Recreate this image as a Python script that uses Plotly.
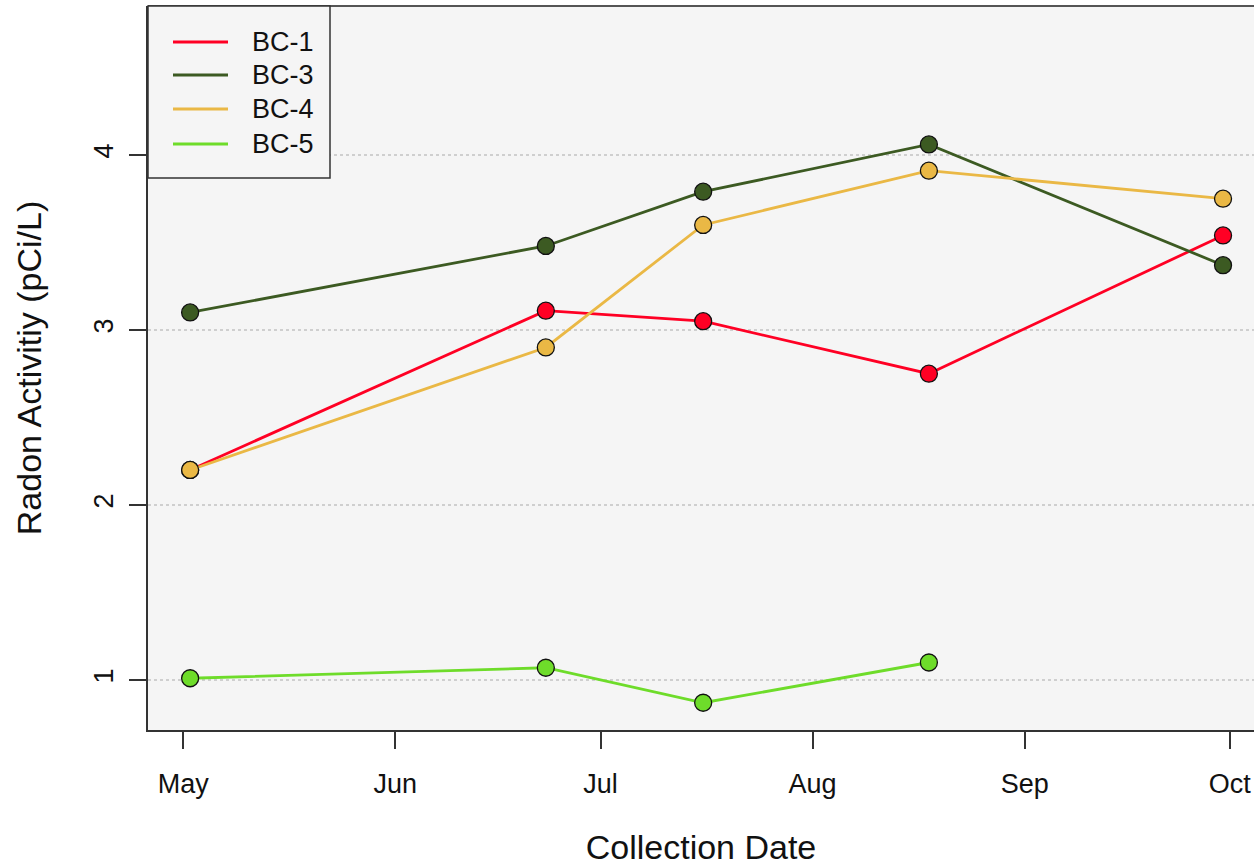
import plotly.graph_objects as go

# Sampling dates and radon readings per well
dates = ["2017-05-02", "2017-06-23", "2017-07-16", "2017-08-18", "2017-09-30"]
bc1 = [2.20, 3.11, 3.05, 2.75, 3.54]
bc3 = [3.10, 3.48, 3.79, 4.06, 3.37]
bc4 = [2.20, 2.90, 3.60, 3.91, 3.75]
bc5 = [1.01, 1.07, 0.87, 1.10]

series_names = ["BC-1", "BC-3", "BC-4", "BC-5"]
series_values = [bc1, bc3, bc4, bc5]
series_colors = ["#FF0024", "#3C5A22", "#EAB845", "#6EDC2A"]

month_ticks = ["2017-05-01", "2017-06-01", "2017-07-01", "2017-08-01",
               "2017-09-01", "2017-10-01"]
month_labels = ["May", "Jun", "Jul", "Aug", "Sep", "Oct"]
y_ticks = [1, 2, 3, 4]

FONT = "Liberation Sans, Arial, sans-serif"
W, H = 1254, 866
L, R, T, B = 148, 0, 6, 136

fig = go.Figure()
for name, vals, col in zip(series_names, series_values, series_colors):
    fig.add_trace(go.Scatter(
        x=dates[:len(vals)], y=vals, name=name, mode="lines+markers",
        line=dict(color=col, width=2.8),
        marker=dict(size=17, color=col, line=dict(color="#111111", width=1.3)),
        showlegend=False, cliponaxis=False,
    ))

# Legend box drawn in the top-left corner of the panel
pw, ph = W - L - R, H - T - B


def px(x):
    return (x - L) / pw


def py(y):
    return (H - B - y) / ph


shapes = [
    # top border of the panel
    dict(type="line", xref="paper", yref="paper", x0=0, x1=1.02, y0=1, y1=1,
         line=dict(color="#555555", width=2)),
    dict(type="rect", xref="paper", yref="paper", x0=px(148), x1=px(330),
         y0=py(178), y1=1, line=dict(color="#333333", width=1.5),
         fillcolor="#F5F5F5", layer="above"),
]
annotations = []
row_y = [42, 75, 109, 144]
for name, col, ry in zip(series_names, series_colors, row_y):
    shapes.append(dict(type="line", xref="paper", yref="paper",
                       x0=px(173), x1=px(228), y0=py(ry), y1=py(ry),
                       line=dict(color=col, width=3.2), layer="above"))
    annotations.append(dict(xref="paper", yref="paper", x=px(250), y=py(ry),
                            text=name, showarrow=False, xanchor="left",
                            yanchor="middle",
                            font=dict(family=FONT, size=27, color="#111111")))

fig.update_layout(
    width=W, height=H,
    margin=dict(l=L, r=R, t=T, b=B),
    paper_bgcolor="white", plot_bgcolor="#F5F5F5",
    font=dict(family=FONT, color="#111111"),
    shapes=shapes, annotations=annotations,
    xaxis=dict(
        type="date",
        range=["2017-04-25 20:10", "2017-10-04 12:40"],
        tickvals=month_ticks, ticktext=month_labels,
        ticks="outside", ticklen=17, tickwidth=1.5, tickcolor="#333333",
        tickfont=dict(size=27, family=FONT, color="#111111"),
        ticklabelstandoff=12,
        showline=True, linecolor="#333333", linewidth=1.5,
        showgrid=False, zeroline=False,
        title=dict(text="Collection Date", standoff=40,
                   font=dict(size=34, family=FONT, color="#111111")),
    ),
    yaxis=dict(
        range=[0.7143, 4.851],
        tickvals=y_ticks, ticktext=[str(v) for v in y_ticks],
        tickangle=-90,
        ticks="outside", ticklen=17, tickwidth=1.5, tickcolor="#333333",
        tickfont=dict(size=27, family=FONT, color="#111111"),
        ticklabelstandoff=5,
        showline=True, linecolor="#333333", linewidth=1.5,
        showgrid=True, gridcolor="#CFCFCF", gridwidth=1.5, griddash="dot",
        zeroline=False,
        title=dict(text="Radon Activitiy (pCi/L)", standoff=38,
                   font=dict(size=34, family=FONT, color="#111111")),
    ),
)

fig.write_html("out.html")
